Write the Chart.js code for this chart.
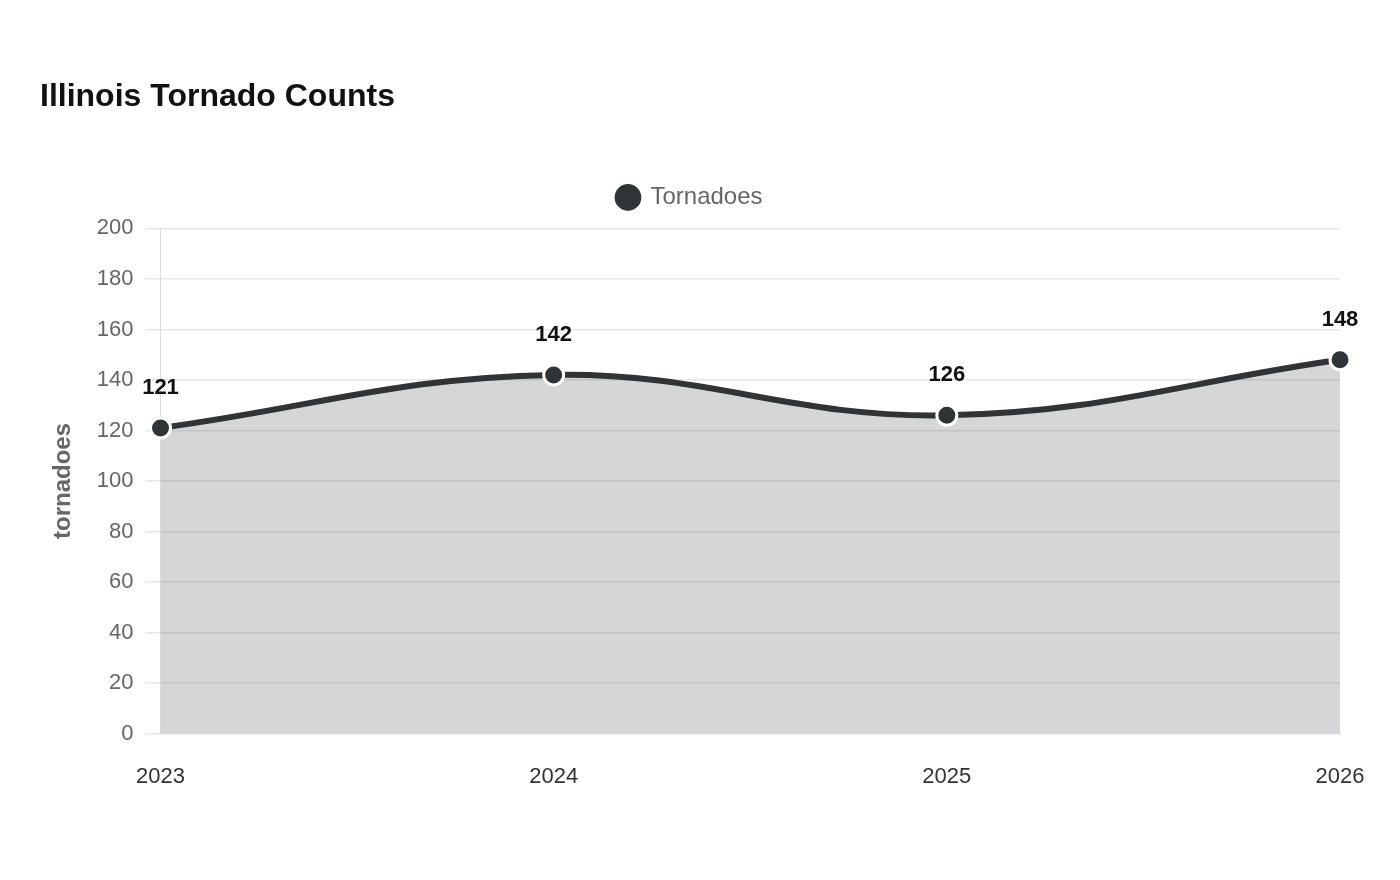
<!DOCTYPE html>
<html lang="en">
<head>
<meta charset="UTF-8">
<title>Illinois Tornado Counts</title>
<script src="https://cdn.jsdelivr.net/npm/chart.js"></script>
<style>
  html, body { margin: 0; padding: 0; background: #fff; }
  #box { width: 1400px; height: 880px; }
</style>
</head>
<body>
<div id="box"><canvas id="grafico"></canvas></div>
<script>
  var anos = ['2023', '2024', '2025', '2026']
  var tornados = [121, 142, 126, 148]
  var ticksY = [0, 20, 40, 60, 80, 100, 120, 140, 160, 180, 200]

  var corLinha = '#2f3436'

  // rotulos em cima dos pontos
  const rotulos = {
    id: 'rotulos',
    afterDatasetsDraw(chart) {
      const ctx = chart.ctx
      const meta = chart.getDatasetMeta(0)
      ctx.save()
      ctx.font = 'bold 22px "Liberation Sans", Arial, sans-serif'
      ctx.fillStyle = '#111'
      ctx.textAlign = 'center'
      ctx.textBaseline = 'middle'
      meta.data.forEach(function (p, i) {
        ctx.fillText(tornados[i], p.x, p.y - 40)
      })
      ctx.restore()
    }
  }

  // um pouco mais de espaco embaixo da legenda
  const espacoLegenda = {
    id: 'espacoLegenda',
    beforeInit(chart) {
      const fitOriginal = chart.legend.fit
      chart.legend.fit = function () {
        fitOriginal.bind(chart.legend)()
        this.height += 9
      }
    }
  }

  Chart.defaults.font.family = '"Liberation Sans", Arial, sans-serif'

  new Chart(document.getElementById('grafico'), {
    type: 'line',
    data: {
      labels: anos,
      datasets: [{
        label: 'Tornadoes',
        data: tornados,
        borderColor: corLinha,
        backgroundColor: 'rgba(47, 52, 54, 0.2)',
        borderWidth: 6,
        fill: true,
        tension: 0.4,
        pointRadius: 10,
        pointBackgroundColor: corLinha,
        pointBorderColor: '#fff',
        pointBorderWidth: 3
      }]
    },
    options: {
      responsive: true,
      maintainAspectRatio: false,
      animation: false,
      layout: { padding: { left: 40, right: 60, top: 60, bottom: 68 } },
      plugins: {
        title: {
          display: true,
          text: 'Illinois Tornado Counts',
          align: 'start',
          color: '#111',
          font: { size: 32, weight: 'bold' },
          padding: { top: 18, bottom: 59 }
        },
        legend: {
          labels: {
            usePointStyle: true,
            pointStyle: 'circle',
            boxWidth: 21,
            boxHeight: 21,
            color: '#666',
            font: { size: 24 },
            padding: 10
          }
        },
        tooltip: { enabled: false }
      },
      scales: {
        x: {
          grid: { display: false },
          border: { color: '#ddd' },
          offset: false,
          ticks: { color: '#333', font: { size: 22 }, padding: 22 }
        },
        y: {
          min: 0,
          max: 200,
          afterBuildTicks: function (axis) {
            axis.ticks = ticksY.map(function (v) { return { value: v } })
          },
          grid: { color: '#e6e6e6', lineWidth: 1.5, drawTicks: true, tickLength: 15 },
          border: { color: '#ddd' },
          ticks: { color: '#666', font: { size: 22 }, padding: 12 },
          title: {
            display: true,
            text: 'tornadoes',
            color: '#666',
            font: { size: 24, weight: 'bold' },
            padding: { top: 9, bottom: 7 }
          }
        }
      }
    },
    plugins: [rotulos, espacoLegenda]
  })
</script>
</body>
</html>
